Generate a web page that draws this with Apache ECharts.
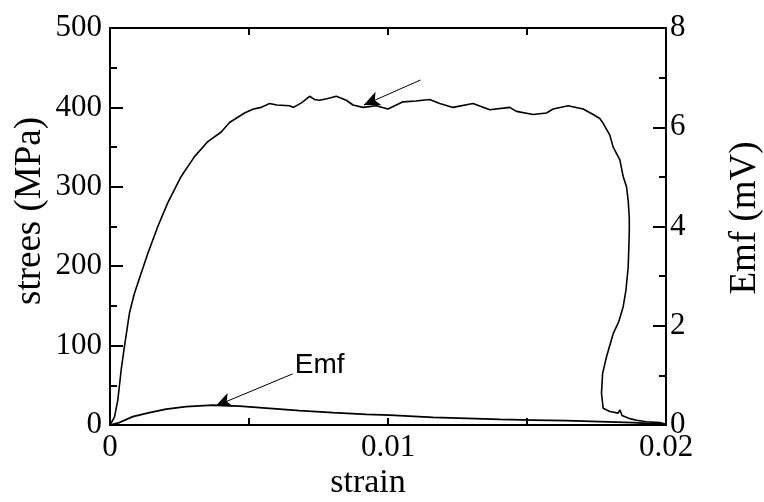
<!DOCTYPE html>
<html><head><meta charset="utf-8">
<script src="https://cdn.jsdelivr.net/npm/echarts@6/dist/echarts.min.js"></script>
<style>html,body{margin:0;padding:0;background:#fff}#c{width:764px;height:502px}</style>
</head><body><div id="c"></div>
<script>
var xTickLabels = {0:'0', 0.01:'0.01', 0.02:'0.02'};
var stressTicks = [0,100,200,300,400,500];
var emfTicks = [0,2,4,6,8];
var stress = [[0,0],[0.00004,2],[0.00016,10],[0.00028,31],[0.0004,69],[0.00052,99],[0.0007,141],[0.00088,166],[0.00112,191],[0.00136,216],[0.00172,250],[0.00208,280],[0.00256,313],[0.00304,338],[0.00352,357],[0.004,369],[0.0043,381],[0.00484,393],[0.00516,398],[0.00544,400],[0.00574,405],[0.006,403],[0.00646,402],[0.0066,400],[0.0069,406],[0.00718,414],[0.00735,410],[0.00754,409],[0.0078,411],[0.00814,414],[0.0085,409],[0.00874,403],[0.0091,400],[0.00958,402],[0.0098,400],[0.01,398],[0.01054,407],[0.011,408],[0.0115,410],[0.01186,405],[0.01234,400],[0.01306,405],[0.01366,397],[0.01438,400],[0.01462,395],[0.01522,391],[0.0157,393],[0.01594,398],[0.01648,402],[0.01702,398],[0.01738,391],[0.01762,386],[0.01774,380],[0.01798,365],[0.0181,350],[0.01834,334],[0.01846,313],[0.01858,300],[0.01864,283],[0.01868,260],[0.01868,246],[0.01866,220],[0.01864,199],[0.01856,170],[0.01846,149],[0.0183,130],[0.0181,115],[0.01786,86],[0.01772,65],[0.01768,40],[0.01774,21],[0.01798,17],[0.01828,15],[0.01834,19],[0.01842,12],[0.0187,8],[0.01894,6],[0.0193,4],[0.01978,3],[0.02,1]];
var emf = [[0,0],[0.00034,0.05],[0.00082,0.17],[0.00142,0.25],[0.00202,0.32],[0.00274,0.37],[0.0037,0.40],[0.00466,0.38],[0.00562,0.34],[0.00682,0.29],[0.00802,0.25],[0.00922,0.215],[0.01006,0.2],[0.01162,0.155],[0.01284,0.135],[0.01402,0.115],[0.01522,0.1],[0.01643,0.087],[0.01762,0.067],[0.01882,0.046],[0.01978,0.02],[0.02,0.01]];
var stressArrow = [[0.01117,434.5],[0.00913,403]];
var emfArrow = [[0.00657,1.03],[0.0038,0.383]];
var emfLabelAt = [0.00754,1.21];

var serif = 'Liberation Serif';
var chart = echarts.init(document.getElementById('c'), null, {renderer:'canvas'});
var axisLine = {show:true, onZero:false, lineStyle:{color:'#000', width:2}};
chart.setOption({
  animation:false,
  backgroundColor:'#fff',
  grid:{left:110, right:98, top:28, bottom:77, containLabel:false},
  xAxis:[{
    type:'value', position:'bottom', min:0, max:0.02, interval:0.005,
    axisLine:axisLine,
    axisTick:{show:true, inside:true, length:7, lineStyle:{color:'#000', width:2}},
    splitLine:{show:false},
    axisLabel:{color:'#000', fontFamily:serif, fontSize:31, margin:7,
      formatter:function(v){ var k=Math.round(v*1000)/1000; return xTickLabels[k]!==undefined?xTickLabels[k]:''; }}
  },{
    type:'value', position:'top', min:0, max:0.02, interval:0.005,
    axisLine:axisLine,
    axisTick:{show:true, inside:true, length:7, lineStyle:{color:'#000', width:2}},
    axisLabel:{show:false}, splitLine:{show:false}
  }],
  yAxis:[{
    type:'value', position:'left', min:stressTicks[0], max:stressTicks[stressTicks.length-1], interval:100,
    axisLine:axisLine,
    axisTick:{show:true, inside:true, length:13, lineStyle:{color:'#000', width:2}},
    minorTick:{show:true, splitNumber:2, length:7, lineStyle:{color:'#000', width:2}},
    splitLine:{show:false},
    axisLabel:{color:'#000', fontFamily:serif, fontSize:31, margin:8}
  },{
    type:'value', position:'right', min:emfTicks[0], max:emfTicks[emfTicks.length-1], interval:2,
    axisLine:axisLine,
    axisTick:{show:true, inside:true, length:13, lineStyle:{color:'#000', width:2}},
    minorTick:{show:true, splitNumber:2, length:7, lineStyle:{color:'#000', width:2}},
    splitLine:{show:false},
    axisLabel:{color:'#000', fontFamily:serif, fontSize:31, margin:4}
  }],
  series:[{
    type:'line', xAxisIndex:0, yAxisIndex:0, data:stress, showSymbol:false, symbol:'none',
    lineStyle:{color:'#000', width:1.6},
    markLine:{silent:true, symbol:['none','arrow'], symbolSize:[11,16],
      lineStyle:{color:'#000', width:1, type:'solid'}, label:{show:false},
      data:[[{coord:stressArrow[0]},{coord:stressArrow[1]}]]}
  },{
    type:'line', xAxisIndex:0, yAxisIndex:1, data:emf, showSymbol:false, symbol:'none',
    lineStyle:{color:'#000', width:1.8},
    markLine:{silent:true, symbol:['none','arrow'], symbolSize:[11,16],
      lineStyle:{color:'#000', width:1, type:'solid'}, label:{show:false},
      data:[[{coord:emfArrow[0]},{coord:emfArrow[1]}]]},
    markPoint:{silent:true, symbol:'circle', symbolSize:0,
      data:[{coord:emfLabelAt, value:'Emf'}],
      label:{show:true, position:'inside', formatter:'Emf', color:'#000', fontFamily:'Liberation Sans', fontSize:28}}
  }],
  graphic:[
    {type:'text', x:30, y:211, rotation:Math.PI/2, style:{text:'strees (MPa)', fontFamily:serif, fontSize:37, fill:'#000', textAlign:'center', textVerticalAlign:'middle'}},
    {type:'text', x:745, y:218, rotation:Math.PI/2, style:{text:'Emf (mV)', fontFamily:serif, fontSize:37, fill:'#000', textAlign:'center', textVerticalAlign:'middle'}},
    {type:'text', x:368, y:483, style:{text:'strain', fontFamily:serif, fontSize:34, fill:'#000', textAlign:'center', textVerticalAlign:'middle'}}
  ]
});
</script></body></html>
